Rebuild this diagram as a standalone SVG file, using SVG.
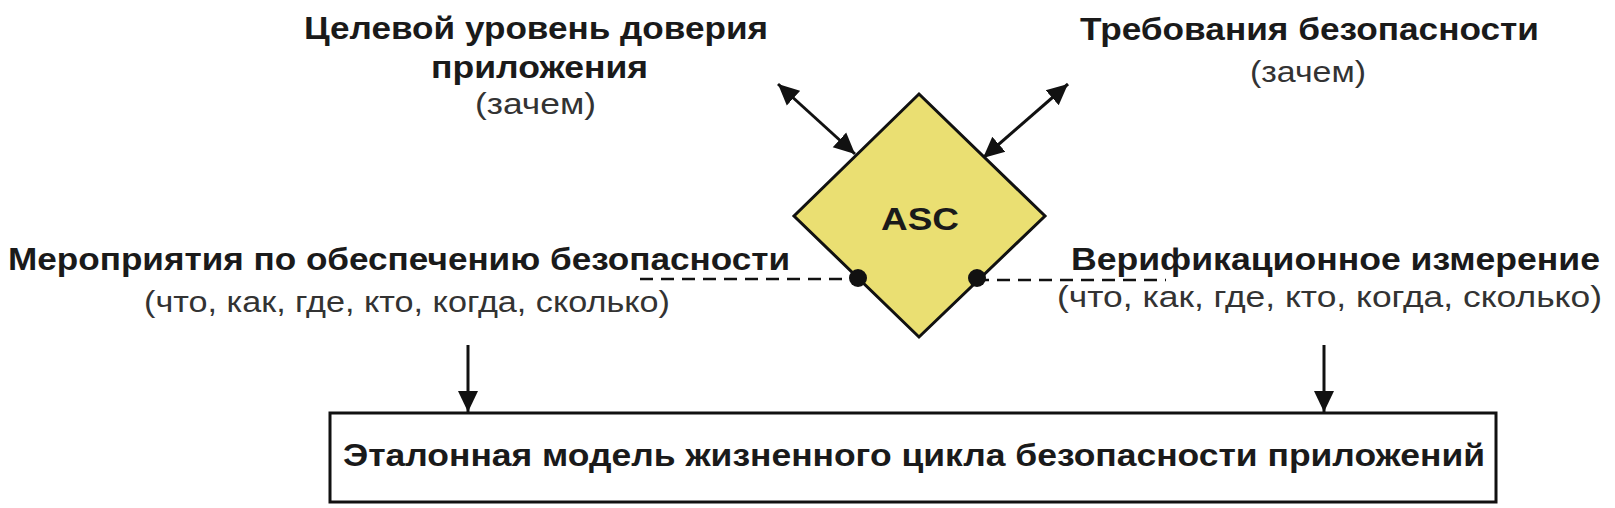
<svg xmlns="http://www.w3.org/2000/svg" width="1615" height="508" viewBox="0 0 1615 508">
<defs>
<style>
.h{font-family:"Liberation Sans",Arial,sans-serif;font-weight:bold;fill:#1a1a1a;font-size:32px}
.s{font-family:"Liberation Sans",Arial,sans-serif;fill:#333;font-size:29px}
.ln{stroke:#111;stroke-width:3;fill:none}
.dash{stroke:#111;stroke-width:2.5;stroke-dasharray:13 8;fill:none}
</style>
<marker id="ah" markerUnits="userSpaceOnUse" markerWidth="22" markerHeight="22" viewBox="0 0 22 22" refX="21" refY="11" orient="auto-start-reverse">
<path d="M0,1 L21,11 L0,21 Z" fill="#111"/>
</marker>
</defs>
<rect width="1615" height="508" fill="#fff"/>

<g id="connectors">
<line class="ln" x1="778" y1="84" x2="855" y2="154" marker-start="url(#ah)" marker-end="url(#ah)"/>
<line class="ln" x1="1068" y1="84" x2="983" y2="158" marker-start="url(#ah)" marker-end="url(#ah)"/>
<line class="dash" x1="640" y1="279" x2="858" y2="279"/>
<line class="dash" x1="976" y1="280" x2="1166" y2="280"/>
<line class="ln" x1="468" y1="345" x2="468" y2="412" marker-end="url(#ah)"/>
<line class="ln" x1="1324" y1="345" x2="1324" y2="412" marker-end="url(#ah)"/>
</g>

<g id="node-asc">
<polygon points="919,94 1045,216 919,337 794,216" fill="#EADF72" stroke="#111" stroke-width="3"/>
<text x="920" y="230" class="h" font-size="38" text-anchor="middle" textLength="78" lengthAdjust="spacingAndGlyphs">ASC</text>
<circle cx="858" cy="278" r="9" fill="#111"/>
<circle cx="977" cy="278" r="9" fill="#111"/>
</g>

<g id="node-target">
<text x="304" y="39" class="h" textLength="464" lengthAdjust="spacingAndGlyphs">Целевой уровень доверия</text>
<text x="431" y="78" class="h" textLength="217" lengthAdjust="spacingAndGlyphs">приложения</text>
<text x="475" y="114" class="s" textLength="121" lengthAdjust="spacingAndGlyphs">(зачем)</text>
</g>

<g id="node-requirements">
<text x="1080" y="40" class="h" textLength="459" lengthAdjust="spacingAndGlyphs">Требования безопасности</text>
<text x="1250" y="82" class="s" textLength="116" lengthAdjust="spacingAndGlyphs">(зачем)</text>
</g>

<g id="node-activities">
<text x="8" y="270" class="h" textLength="782" lengthAdjust="spacingAndGlyphs">Мероприятия по обеспечению безопасности</text>
<text x="144" y="312" class="s" textLength="526" lengthAdjust="spacingAndGlyphs">(что, как, где, кто, когда, сколько)</text>
</g>

<g id="node-verification">
<text x="1071" y="270" class="h" textLength="529" lengthAdjust="spacingAndGlyphs">Верификационное измерение</text>
<text x="1057" y="307" class="s" textLength="545" lengthAdjust="spacingAndGlyphs">(что, как, где, кто, когда, сколько)</text>
</g>

<g id="node-model">
<rect x="330" y="413" width="1166" height="89" fill="#fff" stroke="#111" stroke-width="3"/>
<text x="343" y="466" class="h" font-size="34" textLength="1142" lengthAdjust="spacingAndGlyphs">Эталонная модель жизненного цикла безопасности приложений</text>
</g>
</svg>
